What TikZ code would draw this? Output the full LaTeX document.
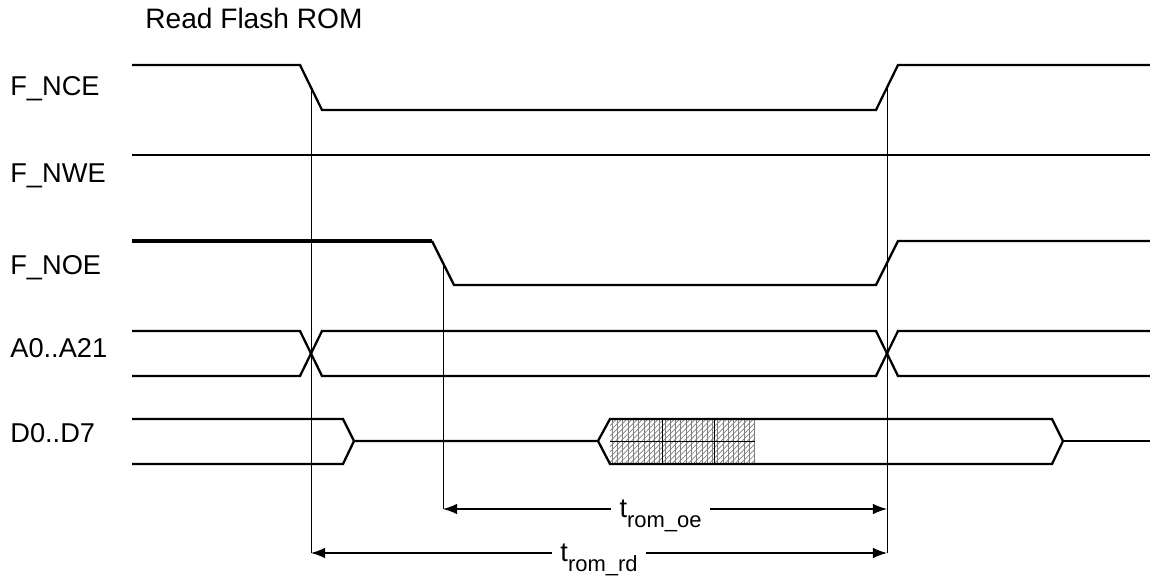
\documentclass[tikz,border=0pt]{standalone}
\usepackage{fontspec}
\setmainfont{Liberation Sans}
\usetikzlibrary{arrows.meta,patterns}
\begin{document}
\begin{tikzpicture}[x=0.02cm, y=-0.02cm,
    sig/.style={line width=1.3pt},
    ref/.style={line width=0.55pt},
    dim/.style={line width=0.7pt, {Latex[length=8pt,width=6pt]}-{Latex[length=8pt,width=6pt]}},
    lbl/.style={anchor=base west, inner sep=0pt, font=\fontsize{15.5}{18}\selectfont},
    tlbl/.style={fill=white, inner xsep=5pt, inner ysep=1pt, anchor=base, yshift=-5pt, font=\fontsize{15.5}{18}\selectfont}]
    \useasboundingbox (0,0) rectangle (1150,577);

    % Title
    \node[anchor=base west, inner sep=0pt, font=\fontsize{16}{19}\selectfont] (title) at (145,29) {Read Flash ROM};

    % Signal names
    \node[lbl] (nce) at (10,96) {F\_NCE};
    \node[lbl] (nwe) at (10,183) {F\_NWE};
    \node[lbl] (noe) at (10,275) {F\_NOE};
    \node[lbl] (addr) at (10,358) {A0..A21};
    \node[lbl] (data) at (10,443) {D0..D7};

    % F_NCE
    \draw[sig] (132,65) -- (300,65) -- (322,110) -- (876,110) -- (898,65) -- (1150,65);

    % F_NWE
    \draw[sig] (132,155) -- (1150,155);

    % F_NOE
    \draw[line width=1.9pt] (132,241) -- (432,241);
    \draw[sig] (432,241) -- (454,285) -- (876,285) -- (898,241) -- (1150,241);

    % A0..A21
    \draw[sig] (132,331) -- (300,331) -- (322,376) -- (876,376) -- (898,331) -- (1150,331);
    \draw[sig] (132,376) -- (300,376) -- (322,331) -- (876,331) -- (898,376) -- (1150,376);

    % D0..D7 (valid data window hatched)
    \fill[pattern=vertical lines, pattern color=gray] (610,419) rectangle (755,464);
    \fill[pattern=north east lines, pattern color=gray] (610,419) rectangle (755,464);
    \draw[line width=0.45pt] (610,441) -- (755,441);
    \draw[line width=0.45pt] (662,419) -- (662,464);
    \draw[line width=0.45pt] (714,419) -- (714,464);
    \draw[sig] (132,419) -- (343,419) -- (354,441) -- (343,464) -- (132,464);
    \draw[sig] (354,441) -- (598,441) -- (610,419) -- (1052,419) -- (1063,441) -- (1052,464) -- (610,464) -- (598,441);
    \draw[sig] (1063,441) -- (1150,441);

    % Timing reference points
    \coordinate (nceFall) at (311,87.5);
    \coordinate (nceRise) at (887,87.5);
    \coordinate (noeFall) at (443,263);
    \coordinate (oeL) at (443,509);
    \coordinate (oeR) at (887,509);
    \coordinate (rdL) at (311,553);
    \coordinate (rdR) at (887,553);

    % Reference lines
    \draw[ref] (nceFall) -- (rdL);
    \draw[ref] (nceRise) -- (rdR);
    \draw[ref] (noeFall) -- (oeL);

    % Timing arrows
    \draw[dim] (oeL) -- (oeR) node[tlbl, pos=0.49] (toe) {t\raisebox{-5.5pt}{\fontsize{12.5}{14}\selectfont rom\_oe}};
    \draw[dim] (rdL) -- (rdR) node[tlbl, pos=0.5] (trd) {t\raisebox{-5.5pt}{\fontsize{12.5}{14}\selectfont rom\_rd}};
\end{tikzpicture}
\end{document}
